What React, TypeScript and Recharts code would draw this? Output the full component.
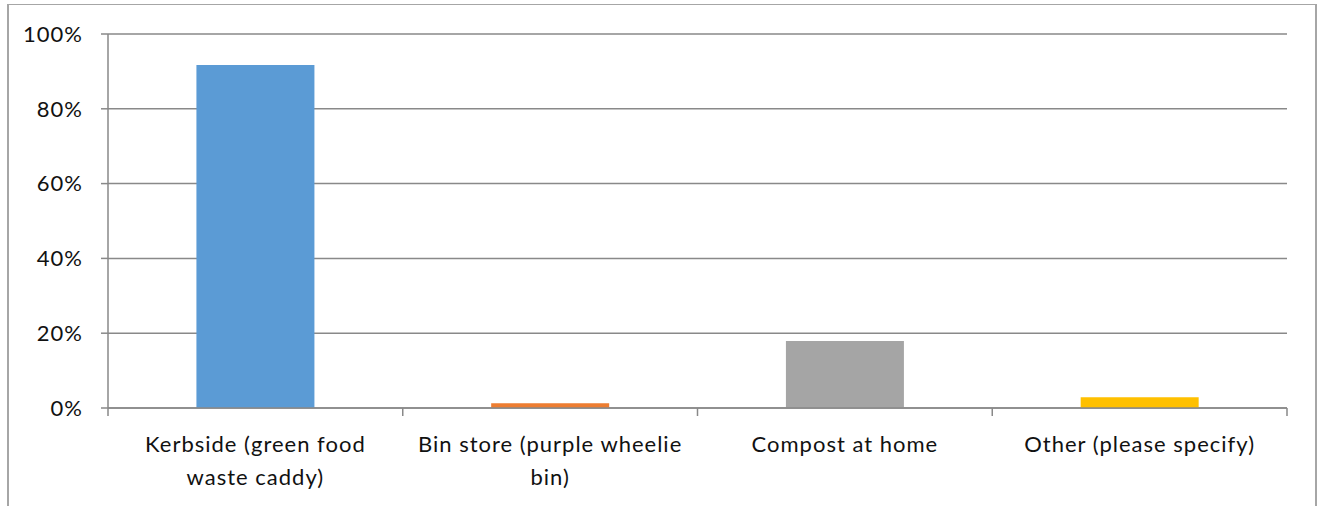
import React from 'react';
import { BarChart, Bar, XAxis, YAxis, CartesianGrid, Cell } from 'recharts';

const categories = [
  'Kerbside (green food waste caddy)',
  'Bin store (purple wheelie bin)',
  'Compost at home',
  'Other (please specify)',
];
const shares = [91.7, 1.3, 17.9, 2.9];
const yTicks = [0, 20, 40, 60, 80, 100];
const COLORS = ['#5b9bd5', '#ed7d31', '#a5a5a5', '#ffc000'];

const data = categories.map((name, i) => ({ name, value: shares[i] }));

const AXIS = '#898989';
const FONT = 'Lato, "Open Sans", sans-serif';
const FONT_SIZE = 22;

const PLOT_LEFT = 108;
const PLOT_RIGHT = 1287;
const BAND = (PLOT_RIGHT - PLOT_LEFT) / categories.length;

let ctx: CanvasRenderingContext2D | null = null;
// greedy word wrap, measured without letter spacing
function wrap(text: string, maxWidth: number): string[] {
  if (!ctx) ctx = document.createElement('canvas').getContext('2d');
  if (!ctx) return [text];
  ctx.font = `${FONT_SIZE}px ${FONT}`;
  const lines: string[] = [];
  let cur = '';
  for (const w of text.split(' ')) {
    const next = cur ? cur + ' ' + w : w;
    if (cur && ctx.measureText(next).width > maxWidth) {
      lines.push(cur);
      cur = w;
    } else cur = next;
  }
  if (cur) lines.push(cur);
  return lines;
}

function CategoryTick(props: any) {
  const { x, y, payload, index } = props;
  const left = x - BAND / 2;
  const lines = wrap(payload.value, 250);
  return (
    <g>
      <line x1={left} y1={y - 8} x2={left} y2={y} stroke={AXIS} strokeWidth={1.5} />
      {index === categories.length - 1 && (
        <line x1={x + BAND / 2} y1={y - 8} x2={x + BAND / 2} y2={y} stroke={AXIS} strokeWidth={1.5} />
      )}
      <text x={x} textAnchor="middle" fontSize={FONT_SIZE} fontFamily={FONT} fill="#111" letterSpacing={1}>
        {lines.map((l, i) => (
          <tspan key={i} x={x} y={y + 30 + i * 33} dominantBaseline="middle">
            {l}
          </tspan>
        ))}
      </text>
    </g>
  );
}

export default function App() {
  return (
    <div style={{ position: 'absolute', left: 0, top: 0, width: 1318, height: 506, background: '#fff' }}>
      <div
        style={{
          position: 'absolute',
          left: 7,
          top: 4,
          width: 1306,
          height: 520,
          borderLeft: '2px solid #a6a6a6',
          borderTop: '1px solid #a6a6a6',
          borderRight: '2px solid #a6a6a6',
        }}
      />
      <div style={{ position: 'absolute', left: 0, top: 0 }}>
        <BarChart
          width={1318}
          height={506}
          data={data}
          margin={{ top: 34, right: 1318 - PLOT_RIGHT, bottom: 18, left: 8 }}
          barCategoryGap="30%"
        >
          <CartesianGrid vertical={false} stroke={AXIS} strokeWidth={1.5} />
          <XAxis
            dataKey="name"
            interval={0}
            height={80}
            stroke={AXIS}
            strokeWidth={1.5}
            tickLine={false}
            tick={<CategoryTick />}
          />
          <YAxis
            domain={[0, 100]}
            ticks={yTicks}
            width={100}
            tickFormatter={(v: number) => `${v}%`}
            stroke={AXIS}
            strokeWidth={1.5}
            tickSize={7}
            tickMargin={18}
            tick={{ fontSize: FONT_SIZE, fontFamily: FONT, fill: '#111', letterSpacing: 1 }}
          />
          <Bar dataKey="value" isAnimationActive={false}>
            {data.map((_, i) => (
              <Cell key={i} fill={COLORS[i]} />
            ))}
          </Bar>
        </BarChart>
      </div>
    </div>
  );
}
